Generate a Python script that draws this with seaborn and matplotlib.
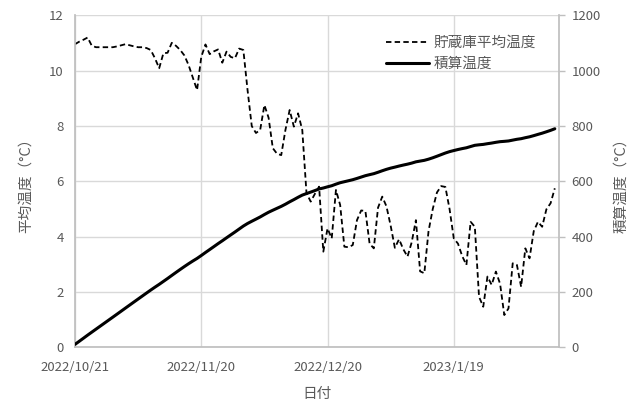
import numpy as np
import pandas as pd
import matplotlib
matplotlib.use("Agg")
import matplotlib.pyplot as plt
import seaborn as sns

# ---- data ----
start_date = "2022-10-21"
storage_temp = [
    10.96, 11.05, 11.12, 11.20, 10.90, 10.85, 10.85, 10.85, 10.85, 10.85,
    10.88, 10.92, 10.96, 10.92, 10.88, 10.85, 10.85, 10.82, 10.75, 10.45,
    10.09, 10.63, 10.65, 11.01, 10.90, 10.75, 10.55, 10.20, 9.75, 9.30,
    10.50, 10.95, 10.60, 10.70, 10.77, 10.29, 10.69, 10.50, 10.45, 10.80,
    10.75, 9.30, 8.00, 7.75, 7.86, 8.76, 8.30, 7.20, 7.00, 6.95,
    7.86, 8.58, 7.98, 8.46, 7.86, 5.58, 5.27, 5.55, 5.81, 3.46,
    4.30, 3.94, 5.69, 5.15, 3.64, 3.62, 3.70, 4.60, 4.95, 4.93,
    3.75, 3.58, 5.05, 5.45, 5.10, 4.40, 3.60, 3.91, 3.55, 3.28,
    3.80, 4.60, 2.75, 2.68, 4.20, 5.00, 5.60, 5.83, 5.80, 5.00,
    3.94, 3.75, 3.30, 2.98, 4.54, 4.36, 1.83, 1.47, 2.56, 2.26,
    2.74, 2.30, 1.17, 1.41, 3.04, 2.98, 2.19, 3.58, 3.22, 4.20,
    4.54, 4.36, 4.99, 5.21, 5.75,
]
tick_dates = ["2022-10-21", "2022-11-20", "2022-12-20", "2023-01-19"]
tick_labels = ["2022/10/21", "2022/11/20", "2022/12/20", "2023/1/19"]
x_end = "2023-02-13"
left_ticks = [0, 2, 4, 6, 8, 10, 12]
right_ticks = [0, 200, 400, 600, 800, 1000, 1200]
series_names = ["貯蔵庫平均温度", "積算温度"]

# ---- table ----
dates = pd.date_range(start_date, periods=len(storage_temp), freq="D")
df = pd.DataFrame({"date": dates, "temp": storage_temp})
df["cum"] = df["temp"].cumsum()

sns.set_theme(style="white")
plt.rcParams["font.family"] = ["Noto Sans CJK JP", "DejaVu Sans"]

W, H = 637, 401
fig = plt.figure(figsize=(W / 100, H / 100), dpi=100)
ax = fig.add_axes([75 / W, 1 - 347.4 / H, (559 - 75) / W, (347.4 - 15.4) / H])
ax2 = ax.twinx()

grey = "#595959"
gridc = "#d9d9d9"

sns.lineplot(data=df, x="date", y="temp", ax=ax, color="black", linewidth=1.3,
             label=series_names[0], legend=False)
ax.lines[0].set_linestyle((0, (3, 1.8)))
sns.lineplot(data=df, x="date", y="cum", ax=ax2, color="black", linewidth=2.2,
             label=series_names[1], legend=False)

ax.set_xlim(pd.Timestamp(start_date), pd.Timestamp(x_end))
ax.set_ylim(0, 12)
ax2.set_ylim(0, 1200)
ax.set_yticks(left_ticks)
ax2.set_yticks(right_ticks)
ax.set_xticks(pd.to_datetime(tick_dates))
ax.set_xticklabels(tick_labels)

ax.grid(True, color=gridc, linewidth=1.0)
ax2.grid(False)
ax.set_axisbelow(True)

for a in (ax, ax2):
    for s in a.spines.values():
        s.set_visible(False)
ax.spines["bottom"].set_visible(True)
ax.spines["bottom"].set_color("#bfbfbf")
ax.spines["left"].set_visible(True)
ax.spines["left"].set_color("#bfbfbf")
ax2.spines["right"].set_visible(True)
ax2.spines["right"].set_color("#bfbfbf")

ax.tick_params(axis="y", length=0, labelsize=9.5, colors=grey, pad=8)
ax.tick_params(axis="x", length=0, labelsize=9.5, colors=grey, pad=10)
ax2.tick_params(axis="y", length=4, width=1, color="#bfbfbf", labelsize=9.5,
                labelcolor=grey, pad=5)

ax.set_xlabel("日付", fontsize=10.5, color=grey, labelpad=9)
ax.set_ylabel("平均温度（°C）", fontsize=10.5, color=grey, labelpad=12)
ax2.set_ylabel("積算温度（°C）", fontsize=10.5, color=grey, labelpad=10)

h1, l1 = ax.get_legend_handles_labels()
h2, l2 = ax2.get_legend_handles_labels()
leg = ax2.legend(h1 + h2, l1 + l2, loc="upper right", bbox_to_anchor=(0.965, 0.955),
                 frameon=False, fontsize=10.5, handlelength=3.0, handletextpad=0.3,
                 labelspacing=0.45, borderaxespad=0)
for t in leg.get_texts():
    t.set_color(grey)

fig.savefig("out.png", dpi=100)
